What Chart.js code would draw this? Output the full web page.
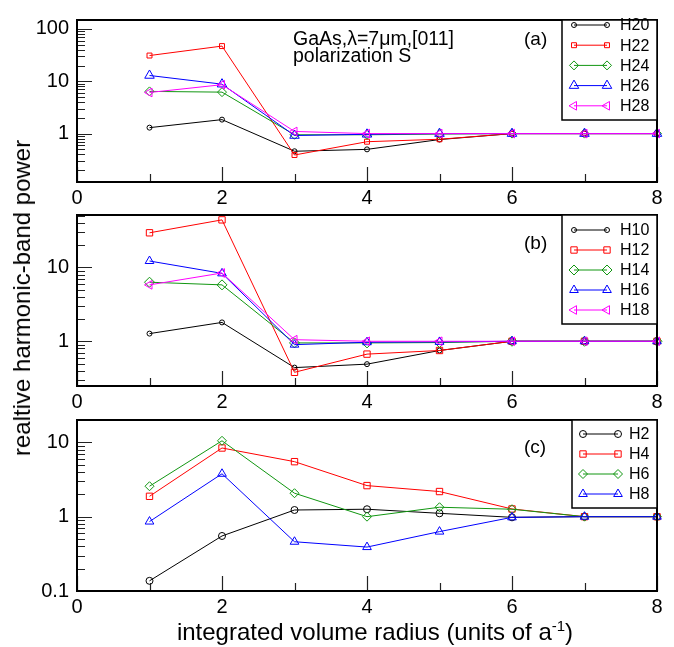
<!DOCTYPE html>
<html>
<head>
<meta charset="utf-8">
<script src="https://cdn.jsdelivr.net/npm/chart.js@4.4.1/dist/chart.umd.min.js"></script>
<style>
  body { margin: 0; background: #fff; }
  #wrap { position: relative; width: 674px; height: 647px; font-family: "Liberation Sans", Arial, sans-serif; color: #000; }
  #wrap canvas { position: absolute; left: 0; top: 0; }
  .ytitle { position: absolute; left: 22px; top: 298px; transform: translate(-50%, -50%) rotate(-90deg); white-space: nowrap; font-size: 24px; }
  .xtitle { position: absolute; left: 375px; top: 632px; transform: translate(-50%, -50%); white-space: nowrap; font-size: 24px; }
  .xtitle sup { font-size: 15px; vertical-align: 9px; line-height: 0; }
</style>
</head>
<body>
<div id="wrap">
  <canvas id="panelA" width="674" height="647"></canvas>
  <canvas id="panelB" width="674" height="647"></canvas>
  <canvas id="panelC" width="674" height="647"></canvas>
  <div class="ytitle">realtive harmonic-band power</div>
  <div class="xtitle">integrated volume radius (units of a<sup>-1</sup>)</div>
</div>
<script>
/* ---------- DATA ---------- */
const radius = [1, 2, 3, 4, 5, 6, 7, 8];
const xTicks = [0, 2, 4, 6, 8];

const yTicksA = [1, 10, 100];
const yTicksB = [1, 10];
const yTicksC = [0.1, 1, 10];

const namesA = ["H20", "H22", "H24", "H26", "H28"];
const h20 = [1.3, 1.85, 0.46, 0.5, 0.77, 1, 1, 1];
const h22 = [31, 47, 0.39, 0.7, 0.78, 1, 1, 1];
const h24 = [6.4, 6.2, 0.95, 0.95, 0.98, 1, 1, 1];
const h26 = [12.9, 8.8, 0.92, 0.97, 1, 1, 1, 1];
const h28 = [6.1, 8.6, 1.1, 1.0, 1.0, 1, 1, 1];

const namesB = ["H10", "H12", "H14", "H16", "H18"];
const h10 = [1.27, 1.8, 0.44, 0.49, 0.75, 1, 1, 1];
const h12 = [29.4, 44, 0.38, 0.67, 0.75, 1, 1, 1];
const h14 = [6.3, 5.8, 0.95, 0.95, 0.96, 1, 1, 1];
const h16 = [12.2, 8.3, 0.9, 0.97, 0.98, 1, 1, 1];
const h18 = [5.8, 8.4, 1.05, 1.0, 1.0, 1, 1, 1];

const namesC = ["H2", "H4", "H6", "H8"];
const h2 = [0.137, 0.55, 1.23, 1.26, 1.11, 0.98, 1, 1];
const h4 = [1.88, 8.4, 5.5, 2.62, 2.18, 1.27, 1, 1];
const h6 = [2.57, 10.5, 2.07, 1.0, 1.34, 1.26, 1, 1];
const h8 = [0.86, 3.78, 0.46, 0.39, 0.63, 0.98, 1, 1];

/* ---------- STYLE ---------- */
const FONT = '"Liberation Sans", Arial, sans-serif';
const colors = ["#000000", "#ff0000", "#119611", "#0000ff", "#ff00ff"];
const markers = [
  { style: "circle", rot: 0 },
  { style: "rect", rot: 0 },
  { style: "rectRot", rot: 0 },
  { style: "triangle", rot: 0 },
  { style: "triangle", rot: -90 }
];

/* ---------- FRAME / TICKS / LEGEND PLUGIN ---------- */
function drawMarker(ctx, ds, x, y) {
  ctx.save();
  ctx.strokeStyle = ds.borderColor;
  ctx.fillStyle = "rgba(0,0,0,0)";
  ctx.lineWidth = 1;
  Chart.helpers.drawPoint(ctx, {
    pointStyle: ds.pointStyle,
    rotation: ds.pointRotation || 0,
    radius: ds.pointRadius,
    borderWidth: 1
  }, x, y);
  ctx.restore();
}

const framePlugin = {
  id: "frame",
  afterDatasetsDraw(chart, args, opts) {
    const { ctx, chartArea: a, scales } = chart;
    ctx.save();

    // inward tick marks
    ctx.strokeStyle = "#222";
    ctx.lineWidth = 1.2;
    ctx.beginPath();
    for (let v = 0; v <= 8; v++) {
      const x = Math.round(scales.x.getPixelForValue(v)) + 0.5;
      ctx.moveTo(x, a.bottom);
      ctx.lineTo(x, a.bottom - (v % 2 === 0 ? 15 : 8));
    }
    const ys = scales.y;
    const e0 = Math.floor(Math.log10(ys.min));
    const e1 = Math.ceil(Math.log10(ys.max));
    for (let e = e0; e <= e1; e++) {
      for (let k = 1; k <= 9; k++) {
        const v = k * Math.pow(10, e);
        if (v < ys.min * 0.999 || v > ys.max) continue;
        const y = Math.round(ys.getPixelForValue(v)) + 0.5;
        ctx.moveTo(a.left, y);
        ctx.lineTo(a.left + (k === 1 ? 15 : 8), y);
      }
    }
    ctx.stroke();

    // plot frame
    ctx.strokeStyle = "#000";
    ctx.lineWidth = 2;
    ctx.strokeRect(a.left, a.top, a.right - a.left, a.bottom - a.top);

    // notes
    ctx.fillStyle = "#000";
    ctx.textBaseline = "alphabetic";
    ctx.textAlign = "left";
    (opts.notes || []).forEach(n => {
      ctx.font = n.size + "px " + FONT;
      ctx.fillText(n.text, n.x, n.y);
    });

    // legend
    const lg = opts.legend;
    if (lg) {
      ctx.fillStyle = "#fff";
      ctx.fillRect(lg.left, a.top, a.right - lg.left, lg.bottom - a.top);
      ctx.strokeStyle = "#000";
      ctx.lineWidth = 1.5;
      ctx.strokeRect(lg.left, a.top, a.right - lg.left, lg.bottom - a.top);
      ctx.font = "16px " + FONT;
      ctx.textBaseline = "middle";
      chart.data.datasets.forEach((ds, i) => {
        const y = lg.rowTop + i * lg.rowGap;
        ctx.strokeStyle = ds.borderColor;
        ctx.lineWidth = 1;
        ctx.beginPath();
        ctx.moveTo(lg.x0, y);
        ctx.lineTo(lg.x1, y);
        ctx.stroke();
        drawMarker(ctx, ds, lg.x0, y);
        drawMarker(ctx, ds, lg.x1, y);
        ctx.fillStyle = "#000";
        ctx.fillText(ds.label, lg.textX, y + 1);
      });
    }
    ctx.restore();
  }
};

/* ---------- PANEL BUILDER ---------- */
function makePanel(id, names, series, sizes, yTicks, yMin, yMax, top, bottom, extra) {
  const datasets = series.map((vals, i) => ({
    label: names[i],
    data: vals,
    borderColor: colors[i],
    backgroundColor: colors[i],
    borderWidth: 1,
    pointStyle: markers[i].style,
    pointRotation: markers[i].rot,
    pointRadius: sizes[i],
    pointBorderWidth: 1,
    pointBorderColor: colors[i],
    pointBackgroundColor: "rgba(0,0,0,0)",
    tension: 0,
    clip: false,
    order: series.length - i
  }));

  return new Chart(document.getElementById(id), {
    type: "line",
    data: { labels: radius, datasets },
    plugins: [framePlugin],
    options: {
      responsive: false,
      animation: false,
      events: [],
      layout: { padding: { left: 0, right: 17, top: top, bottom: 647 - bottom - 30 } },
      plugins: {
        legend: { display: false },
        tooltip: { enabled: false },
        frame: extra
      },
      scales: {
        x: {
          type: "linear",
          min: 0,
          max: 8,
          grid: { display: false, drawTicks: false },
          border: { display: false },
          afterBuildTicks: s => { s.ticks = xTicks.map(v => ({ value: v })); },
          afterFit: s => { s.height = 30; },
          ticks: { padding: 4, color: "#000", font: { family: FONT, size: 20 }, maxRotation: 0 }
        },
        y: {
          type: "logarithmic",
          min: yMin,
          max: yMax,
          grid: { display: false, drawTicks: false },
          border: { display: false },
          afterBuildTicks: s => { s.ticks = yTicks.map(v => ({ value: v })); },
          afterFit: s => { s.width = 77; },
          ticks: {
            padding: 8,
            color: "#000",
            font: { family: FONT, size: 20 },
            callback: v => String(v)
          }
        }
      }
    }
  });
}

document.addEventListener("DOMContentLoaded", () => {
  makePanel("panelA", namesA, [h20, h22, h24, h26, h28], [2.5, 3.5, 4.5, 5.5, 5],
    yTicksA, 0.119, 148, 10, 182, {
      notes: [
        { text: "GaAs,\u03bb=7\u03bcm,[011]", x: 293, y: 45, size: 19.5 },
        { text: "polarization S", x: 293, y: 62, size: 19.5 },
        { text: "(a)", x: 524, y: 45, size: 19 }
      ],
      legend: { left: 562, bottom: 120, rowTop: 25, rowGap: 20.2, x0: 574, x1: 607, textX: 620 }
    });

  makePanel("panelB", namesB, [h10, h12, h14, h16, h18], [2.5, 4.5, 5, 5, 5],
    yTicksB, 0.248, 51.2, 215, 386, {
      notes: [{ text: "(b)", x: 524, y: 249, size: 19 }],
      legend: { left: 562, bottom: 324, rowTop: 230, rowGap: 20, x0: 574, x1: 607, textX: 620 }
    });

  makePanel("panelC", namesC, [h2, h4, h6, h8], [3.5, 4.5, 4.5, 5],
    yTicksC, 0.1, 20, 420, 591, {
      notes: [{ text: "(c)", x: 524, y: 453, size: 19 }],
      legend: { left: 572, bottom: 508, rowTop: 434, rowGap: 20, x0: 583, x1: 618, textX: 629 }
    });
});
</script>
</body>
</html>
